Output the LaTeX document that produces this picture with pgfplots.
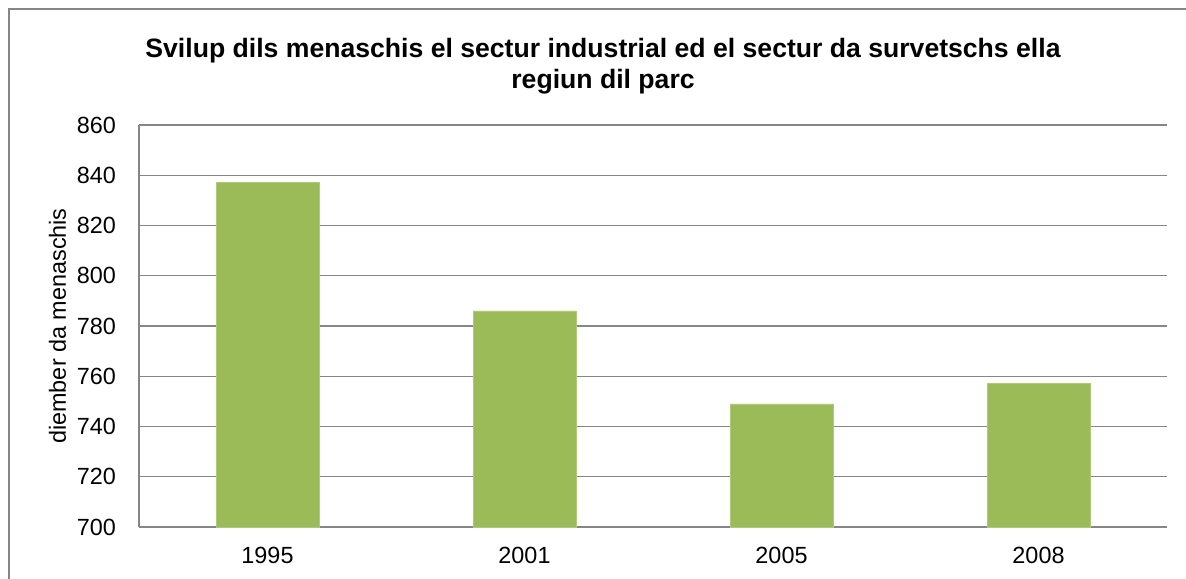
\documentclass[border=0pt]{standalone}
\usepackage{pgfplots}
\pgfplotsset{compat=1.18}
\usepackage{fontspec}
\setmainfont{Liberation Sans}
\definecolor{bargreen}{HTML}{9BBB59}
\definecolor{gridgray}{HTML}{868686}
\begin{document}
\begin{tikzpicture}
\path[use as bounding box] (0pt,0pt) rectangle (593pt,-289pt);
\draw[gridgray,line width=0.6pt] (4.5pt,-300pt) -- (4.5pt,-4.5pt) -- (600pt,-4.5pt);
\node[font=\bfseries\fontsize{13.3}{15.3}\selectfont,align=center] at (301.5pt,-33pt)
  {Svilup dils menaschis el sectur industrial ed el sectur da survetschs ella\\regiun dil parc};
\begin{axis}[
  at={(69.5pt,-263.5pt)}, anchor=south west,
  scale only axis, width=514pt, height=201pt,
  ymin=700, ymax=860, ytick={700,720,...,860},
  xmin=0, xmax=4, xtick={0.5,1.5,2.5,3.5},
  xticklabels={1995,2001,2005,2008},
  ymajorgrids, grid style={gridgray,line width=0.6pt},
  axis line style={gridgray,line width=0.6pt},
  axis x line*=bottom, axis y line*=left,
  major tick length=0pt,
  tick label style={font=\fontsize{11.7}{13}\selectfont},
  /pgf/number format/assume math mode=true,
  /pgf/number format/1000 sep={},
  yticklabel style={xshift=-8pt},
  xticklabel style={yshift=-6.5pt},
  ylabel={diember da menaschis},
  ylabel style={font=\fontsize{11.7}{13}\selectfont, yshift=-1.5pt},
  separate axis lines,
]
\addplot[ybar, bar width=51.5pt, fill=bargreen, draw=bargreen!80!white, line width=0.3pt]
  coordinates {(0.5,837) (1.5,786) (2.5,749) (3.5,757)};
\end{axis}
\end{tikzpicture}
\end{document}
